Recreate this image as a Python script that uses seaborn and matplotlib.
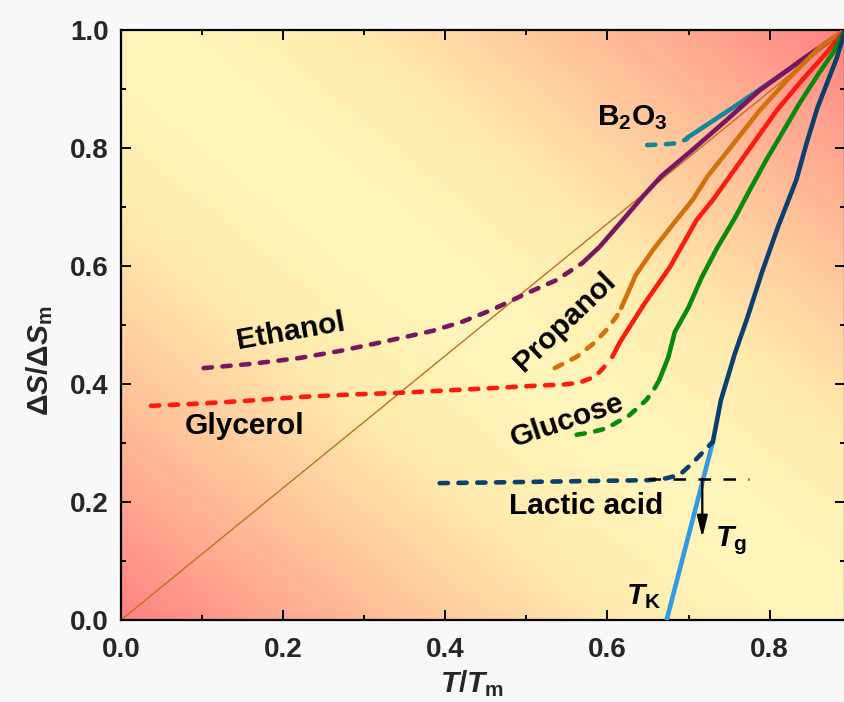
import numpy as np
import matplotlib
matplotlib.use("Agg")
import matplotlib.pyplot as plt
from matplotlib.colors import LinearSegmentedColormap
import seaborn as sns

sns.set_theme(style="ticks")
plt.rcParams['font.family'] = ['Liberation Sans', 'DejaVu Sans']
plt.rcParams['font.weight'] = 'bold'
plt.rcParams['mathtext.fontset'] = 'custom'
plt.rcParams['mathtext.rm'] = 'Liberation Sans:bold'
plt.rcParams['mathtext.bf'] = 'Liberation Sans:bold'
plt.rcParams['mathtext.it'] = 'Liberation Sans:italic:bold'
plt.rcParams['mathtext.default'] = 'rm'

# ---------------- data ----------------
b2o3_dash_x = [0.649, 0.668, 0.685, 0.698]
b2o3_dash_y = [0.805, 0.806, 0.808, 0.815]
b2o3_x = [0.698, 0.73, 0.763, 0.795, 0.828, 0.86, 0.893]
b2o3_y = [0.817, 0.846, 0.876, 0.906, 0.937, 0.968, 1.0]

eth_dash_x = [0.102, 0.16, 0.22, 0.27, 0.322, 0.384, 0.42, 0.458, 0.504, 0.537, 0.569]
eth_dash_y = [0.427, 0.434, 0.444, 0.456, 0.471, 0.49, 0.505, 0.526, 0.556, 0.576, 0.605]
eth_x = [0.569, 0.59, 0.619, 0.645, 0.667, 0.705, 0.745, 0.788, 0.84, 0.893]
eth_y = [0.605, 0.632, 0.678, 0.72, 0.753, 0.797, 0.845, 0.898, 0.95, 1.0]

ref_x = [0.0, 0.893]
ref_y = [0.0, 1.0]

prop_dash_x = [0.535, 0.562, 0.584, 0.599, 0.611, 0.617]
prop_dash_y = [0.427, 0.446, 0.47, 0.492, 0.514, 0.529]
prop_x = [0.617, 0.635, 0.656, 0.685, 0.705, 0.724, 0.757, 0.788, 0.825, 0.862, 0.893]
prop_y = [0.529, 0.585, 0.627, 0.678, 0.712, 0.753, 0.81, 0.864, 0.92, 0.971, 1.0]

gly_dash_x = [0.037, 0.1, 0.16, 0.22, 0.28, 0.343, 0.40, 0.458, 0.51, 0.545, 0.565, 0.58, 0.59, 0.6]
gly_dash_y = [0.363, 0.367, 0.372, 0.378, 0.382, 0.385, 0.389, 0.393, 0.397, 0.399, 0.402, 0.41, 0.42, 0.435]
gly_x = [0.606, 0.615, 0.645, 0.677, 0.71, 0.73, 0.754, 0.781, 0.809, 0.84, 0.87, 0.893]
gly_y = [0.446, 0.47, 0.535, 0.598, 0.678, 0.712, 0.758, 0.81, 0.864, 0.915, 0.961, 1.0]

glu_dash_x = [0.562, 0.58, 0.599, 0.627, 0.648, 0.657, 0.664]
glu_dash_y = [0.314, 0.318, 0.325, 0.347, 0.373, 0.39, 0.407]
glu_x = [0.664, 0.675, 0.683, 0.70, 0.716, 0.735, 0.757, 0.776, 0.796, 0.82, 0.837, 0.86, 0.878, 0.893]
glu_y = [0.407, 0.445, 0.488, 0.53, 0.58, 0.63, 0.681, 0.73, 0.78, 0.836, 0.876, 0.925, 0.961, 1.0]

lac_dash_x = [0.393, 0.45, 0.5, 0.55, 0.6, 0.65, 0.672, 0.689, 0.705, 0.718, 0.73]
lac_dash_y = [0.232, 0.233, 0.234, 0.235, 0.236, 0.237, 0.24, 0.246, 0.266, 0.285, 0.302]
lac_x = [0.73, 0.74, 0.757, 0.772, 0.791, 0.81, 0.833, 0.846, 0.859, 0.883, 0.893]
lac_y = [0.302, 0.373, 0.451, 0.51, 0.591, 0.665, 0.746, 0.81, 0.868, 0.953, 1.0]

tk_x = [0.673, 0.73]
tk_y = [0.0, 0.302]

tg_line_x = [0.65, 0.775]
tg_line_y = [0.239, 0.239]
tg_arrow_x = 0.717
tg_arrow_y0, tg_arrow_y1 = 0.239, 0.14

x_ticks = [0.0, 0.2, 0.4, 0.6, 0.8]
y_ticks = [0.0, 0.2, 0.4, 0.6, 0.8, 1.0]

# ---------------- figure ----------------
fig = plt.figure(figsize=(8.45, 7.02), dpi=100, facecolor='#f8f8f8')
ax = fig.add_axes([121/845, 82/702, 724/845, 590/702])

# background gradient
cmap = LinearSegmentedColormap.from_list('bg', [(0.0, '#fff6bc'), (0.3, '#ffecae'),
                                                (0.6, '#ffc49a'), (0.85, '#ff9c8c'),
                                                (1.0, '#ff8080')])
g = np.linspace(0, 1, 400)
A, B = np.meshgrid(g, g)
T = np.abs(A + B - 1.0)
ax.imshow(T, cmap=cmap, vmin=0, vmax=1, extent=(0, 1, 0, 1), origin='lower',
          transform=ax.transAxes, aspect='auto', zorder=0, interpolation='bilinear')

LW = 3.3
DASH = (0, (1.8, 2.3))

def solid(x, y, c, lw=LW):
    sns.lineplot(x=x, y=y, ax=ax, color=c, linewidth=lw, estimator=None, sort=False,
                 solid_capstyle='round', solid_joinstyle='round', zorder=3)

def dashed(x, y, c, lw=LW):
    sns.lineplot(x=x, y=y, ax=ax, color=c, linewidth=lw, estimator=None, sort=False,
                 linestyle=DASH, dash_capstyle='round', zorder=3)

teal, purple, brown = '#13879a', '#7a1660', '#c0701e'
orange, red, green = '#d4700c', '#ff1a10', '#0a8a0a'
dblue, lblue = '#0b3f6e', '#2f9be0'

sns.lineplot(x=ref_x, y=ref_y, ax=ax, color=brown, linewidth=1.0, estimator=None, zorder=2)
dashed(b2o3_dash_x, b2o3_dash_y, teal); solid(b2o3_x, b2o3_y, teal)
dashed(eth_dash_x, eth_dash_y, purple); solid(eth_x, eth_y, purple)
dashed(prop_dash_x, prop_dash_y, orange); solid(prop_x, prop_y, orange)
dashed(gly_dash_x, gly_dash_y, red); solid(gly_x, gly_y, red)
dashed(glu_dash_x, glu_dash_y, green); solid(glu_x, glu_y, green)
sns.lineplot(x=tk_x, y=tk_y, ax=ax, color=lblue, linewidth=LW, estimator=None, zorder=3)
dashed(lac_dash_x, lac_dash_y, dblue); solid(lac_x, lac_y, dblue)

sns.lineplot(x=tg_line_x, y=tg_line_y, ax=ax, color='black', linewidth=1.8,
             estimator=None, linestyle=(0, (5, 5)), zorder=4)
ax.annotate('', xy=(tg_arrow_x, tg_arrow_y1), xytext=(tg_arrow_x, tg_arrow_y0),
            arrowprops=dict(arrowstyle='-|>,head_length=0.65,head_width=0.16', color='black', lw=1.6,
                            mutation_scale=20, shrinkA=0, shrinkB=0), zorder=5)

# labels
FS = 21.5
kw = dict(fontsize=FS, fontweight='bold', color='black', ha='center', va='center', zorder=6)
ax.text(0.631, 0.852, r'B$_2$O$_3$', **kw)
ax.text(0.209, 0.488, 'Ethanol', rotation=10, **kw)
ax.text(0.152, 0.329, 'Glycerol', **kw)
ax.text(0.548, 0.505, 'Propanol', rotation=44, **kw)
ax.text(0.55, 0.337, 'Glucose', rotation=18.5, **kw)
ax.text(0.574, 0.193, 'Lactic acid', **kw)
ax.text(0.752, 0.135, r'$\mathit{T}_\mathrm{g}$', **kw)
ax.text(0.645, 0.040, r'$\mathit{T}_\mathrm{K}$', **kw)

ax.set_xlim(0, 0.893)
ax.set_ylim(0, 1.0)
ax.set_xticks(x_ticks)
ax.set_yticks(y_ticks)
ax.set_xticklabels([f'{v:.1f}' for v in x_ticks])
ax.set_yticklabels([f'{v:.1f}' for v in y_ticks])
ax.set_xticks(np.arange(0.1, 0.9, 0.2), minor=True)
ax.set_yticks(np.arange(0.1, 1.0, 0.2), minor=True)
ax.tick_params(which='both', direction='in', top=True, right=True, width=1.4, color='black')
ax.tick_params(which='major', length=7)
ax.tick_params(which='minor', length=3.6)
ax.tick_params(axis='x', which='major', labelsize=20, pad=12)
ax.tick_params(axis='y', which='major', labelsize=20, pad=9)
for lab in ax.get_xticklabels() + ax.get_yticklabels():
    lab.set_fontweight('bold')
for s in ax.spines.values():
    s.set_linewidth(1.6)
    s.set_color('black')
    s.set_visible(True)

ax.text(0.485, -0.108, r'$\mathit{T/T}_\mathrm{m}$', transform=ax.transAxes,
        fontsize=21.5, ha='center', va='center')
ax.text(-0.112, 0.44, r'$\Delta\mathit{S}/\Delta\mathit{S}_\mathrm{m}$', transform=ax.transAxes,
        fontsize=21.5, ha='center', va='center', rotation=90)

fig.savefig('out.png', dpi=100, facecolor=fig.get_facecolor())
